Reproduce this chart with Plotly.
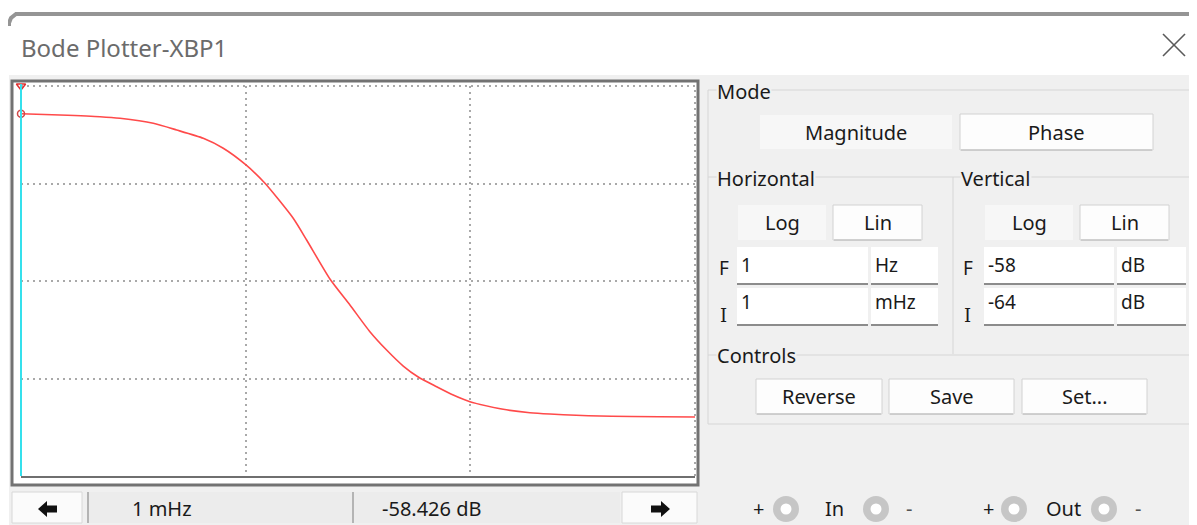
import math
import plotly.graph_objects as go

# ---------------- data ----------------
freq_hz = [0.001, 0.00149, 0.002246, 0.002758, 0.00388, 0.004931, 0.006477, 0.007948,
           0.01003, 0.01219, 0.01628, 0.01868, 0.02372, 0.02912, 0.03573, 0.0424,
           0.05028, 0.05863, 0.0708, 0.08393, 0.09959, 0.1401, 0.1841, 0.226,
           0.3774, 1.0]
mag_db = [-58.426, -58.446, -58.472, -58.497, -58.574, -58.677, -58.805, -58.958,
          -59.215, -59.497, -60.035, -60.369, -60.969, -61.369, -61.780, -62.062,
          -62.308, -62.477, -62.626, -62.754, -62.857, -62.974, -63.026, -63.046,
          -63.077, -63.092]

h_initial_hz = 0.001   # I = 1 mHz
h_final_hz = 1.0       # F = 1 Hz
v_initial_db = -64     # I = -64 dB
v_final_db = -58       # F = -58 dB
x_grid_vals = [0.01, 0.1]
y_grid_vals = [-62.5, -61.0, -59.5]

cursor_freq = 0.001
cursor_db = -58.426

# ---------------- helpers ----------------
# the page body has an 8px margin, so the figure starts at page pixel (8, 8)
OFF = 8
W, H = 1197 - OFF, 525 - OFF
FONT = "Noto Sans, Open Sans, sans-serif"
BG = "#f0f0f0"
shapes, annos = [], []


def px(x):
    return (x - OFF) / W


def py(y):
    return 1 - (y - OFF) / H


def rect(x0, y0, x1, y1, fill, line=None, lw=1, layer="below"):
    shapes.append(dict(type="rect", xref="paper", yref="paper",
                       x0=px(x0), x1=px(x1), y0=py(y1), y1=py(y0),
                       fillcolor=fill, layer=layer,
                       line=dict(color=line if line else fill, width=lw if line else 0)))


def hline(x0, x1, y, color, w=1, layer="below"):
    shapes.append(dict(type="line", xref="paper", yref="paper", x0=px(x0), x1=px(x1),
                       y0=py(y), y1=py(y), line=dict(color=color, width=w), layer=layer))


def vline(x, y0, y1, color, w=1, layer="below"):
    shapes.append(dict(type="line", xref="paper", yref="paper", x0=px(x), x1=px(x),
                       y0=py(y0), y1=py(y1), line=dict(color=color, width=w), layer=layer))


def path(points, fill, line=None, lw=0, closed=True, layer="above"):
    d = "M " + " L ".join(f"{px(x):.5f},{py(y):.5f}" for x, y in points) + (" Z" if closed else "")
    shapes.append(dict(type="path", xref="paper", yref="paper", path=d, fillcolor=fill,
                       layer=layer, line=dict(color=line if line else fill, width=lw)))


def circle(cx, cy, r, fill, layer="below"):
    shapes.append(dict(type="circle", xref="paper", yref="paper",
                       x0=px(cx - r), x1=px(cx + r), y0=py(cy + r), y1=py(cy - r),
                       fillcolor=fill, line=dict(width=0), layer=layer))


def text(x, y, s, size=19, color="#1a1a1a", xanchor="left", family=FONT, bg=None):
    a = dict(x=px(x), y=py(y), xref="paper", yref="paper", text=s, showarrow=False,
             xanchor=xanchor, yanchor="middle", borderpad=0,
             font=dict(family=family, size=size, color=color))
    if bg:
        a["bgcolor"] = bg
    annos.append(a)


def button(x0, y0, x1, y1, label, pressed=False, size=19):
    if pressed:
        rect(x0, y0, x1, y1, "#f7f7f7")
    else:
        rect(x0, y0, x1, y1, "#fdfdfd", "#d2d2d2", 1)
        hline(x0 + 1, x1 - 1, y1, "#b8b8b8", 1)
    text((x0 + x1) / 2, (y0 + y1) / 2, label, size=size, xanchor="center")


def field(x0, y0, x1, y1, label, ty):
    rect(x0, y0, x1, y1, "#ffffff")
    hline(x0, x1, y1 - 1, "#8c8c8c", 2)
    text(x0 + 3, ty, label, size=19)


# ---------------- window chrome ----------------
rect(9, 75, 1197, 525, BG)
path([(9, 26), (9, 23), (11, 18), (16, 14), (1197, 14)], "rgba(0,0,0,0)", "#959595", 4,
     closed=False, layer="below")
text(20, 47, "Bode Plotter-XBP1", size=24, color="#6b6b6b")
shapes.append(dict(type="line", xref="paper", yref="paper", x0=px(1163), x1=px(1185),
                   y0=py(34), y1=py(56), line=dict(color="#5a5a5a", width=1.6)))
shapes.append(dict(type="line", xref="paper", yref="paper", x0=px(1163), x1=px(1185),
                   y0=py(56), y1=py(34), line=dict(color="#5a5a5a", width=1.6)))

# plot frame
rect(12, 81, 698, 485, "#ffffff", "#727272", 3)

# ---------------- right panel ----------------
gb = "#d6d6d6"
hline(708, 1195, 90, gb)
vline(708, 90, 424, gb)
vline(1195, 90, 424, gb)
hline(708, 1195, 424, gb)
hline(708, 1195, 177, gb)
vline(953, 177, 354, gb)
hline(708, 1195, 355, gb)

text(716, 91, "Mode", size=20, bg=BG)
text(716, 178, "Horizontal", size=20, bg=BG)
text(960, 178, "Vertical", size=20, bg=BG)
text(716, 355, "Controls", size=20, bg=BG)

button(760, 115, 952, 149, "Magnitude", pressed=True, size=20)
button(960, 114, 1153, 150, "Phase", size=20)
button(738, 205, 826, 240, "Log", pressed=True, size=20)
button(833, 205, 922, 240, "Lin", size=20)
button(985, 205, 1073, 240, "Log", pressed=True, size=20)
button(1080, 205, 1169, 240, "Lin", size=20)

field(737, 247, 868, 285, f"{h_final_hz:g}", 265)
field(871, 247, 938, 285, "Hz", 265)
field(737, 288, 868, 326, f"{h_initial_hz * 1000:g}", 302)
field(871, 288, 938, 326, "mHz", 302)
field(984, 247, 1114, 285, f"{v_final_db:g}", 265)
field(1117, 247, 1186, 285, "dB", 265)
field(984, 288, 1114, 326, f"{v_initial_db:g}", 302)
field(1117, 288, 1186, 326, "dB", 302)

SERIF = "DejaVu Serif, Liberation Serif, serif"
text(718, 268, "F", size=19)
text(719, 315, "I", size=18, family=SERIF)
text(962, 268, "F", size=19)
text(963, 315, "I", size=18, family=SERIF)

button(756, 379, 882, 414, "Reverse", size=20)
button(889, 379, 1014, 414, "Save", size=20)
button(1022, 379, 1147, 414, "Set...", size=20)

# terminals
for cx in (786, 876, 1014, 1104):
    circle(cx, 509, 13, "#c6c6c6")
    circle(cx, 509, 5.5, "#ffffff")
text(758, 508, "+", size=20, xanchor="center")
text(834, 508, "In", size=20, xanchor="center")
text(909, 508, "-", size=20, xanchor="center", color="#555555")
text(988, 508, "+", size=20, xanchor="center")
text(1063, 508, "Out", size=20, xanchor="center")
text(1138, 508, "-", size=20, xanchor="center", color="#555555")

# ---------------- readout bar ----------------
rect(12, 492, 82, 523, "#fbfbfb", "#d8d8d8", 1)
rect(622, 492, 697, 523, "#fbfbfb", "#d8d8d8", 1)
rect(88, 492, 620, 523, "#ececec")
vline(88, 492, 523, "#b4b4b4", 2)
vline(353, 492, 523, "#b4b4b4", 2)
path([(38, 509), (47, 501), (47, 505.5), (57, 505.5), (57, 512.5), (47, 512.5), (47, 517)], "#111111")
path([(670, 509), (661, 501), (661, 505.5), (651, 505.5), (651, 512.5), (661, 512.5), (661, 517)], "#111111")
text(131, 508, f"{cursor_freq * 1000:g} mHz", size=20)
text(381, 508, f"{cursor_db:.3f} dB", size=20)

# ---------------- plot ----------------
fig = go.Figure()
fig.add_trace(go.Scatter(x=freq_hz, y=mag_db, mode="lines",
                         line=dict(color="#ff4a4a", width=1.6, shape="spline", smoothing=0.6),
                         hoverinfo="skip"))
fig.add_trace(go.Scatter(x=[cursor_freq], y=[cursor_db], mode="markers", cliponaxis=False,
                         marker=dict(symbol="circle-open", size=7, color="#d04848", line=dict(width=1.5)),
                         hoverinfo="skip"))
fig.add_trace(go.Scatter(x=[cursor_freq], y=[v_final_db], mode="markers", cliponaxis=False,
                         marker=dict(symbol="triangle-down-open", size=8, color="#e03030", line=dict(width=1.5)),
                         hoverinfo="skip"))

lx0, lx1 = math.log10(h_initial_hz), math.log10(h_final_hz)
cursor_dom = (math.log10(cursor_freq) - lx0) / (lx1 - lx0)
grid_c = "#a9a9a9"
shapes.append(dict(type="line", xref="x domain", yref="y domain", x0=0, x1=1, y0=1, y1=1,
                   line=dict(color=grid_c, width=2, dash="2px,4px"), layer="below"))
shapes.append(dict(type="line", xref="x domain", yref="y domain", x0=1, x1=1, y0=0, y1=1,
                   line=dict(color=grid_c, width=2, dash="2px,4px"), layer="below"))
shapes.append(dict(type="line", xref="x domain", yref="y domain", x0=cursor_dom, x1=cursor_dom,
                   y0=0, y1=1.005, line=dict(color="#35e0ec", width=2), layer="above"))

fig.update_layout(
    width=W, height=H, margin=dict(l=0, r=0, t=0, b=0),
    paper_bgcolor="#ffffff", plot_bgcolor="rgba(0,0,0,0)", showlegend=False,
    xaxis=dict(type="log", range=[lx0, lx1], domain=[px(21), px(695)],
               tickvals=x_grid_vals, showticklabels=False, ticks="",
               showgrid=True, gridcolor=grid_c, gridwidth=2, griddash="2px,4px",
               showline=True, linecolor="#6f6f6f", linewidth=2, zeroline=False),
    yaxis=dict(range=[v_initial_db, v_final_db], domain=[py(476), py(86)],
               tickvals=y_grid_vals, showticklabels=False, ticks="",
               showgrid=True, gridcolor=grid_c, gridwidth=2, griddash="2px,4px",
               showline=False, zeroline=False),
    shapes=shapes, annotations=annos,
)

fig.write_html("out.html", config={"displayModeBar": False})
